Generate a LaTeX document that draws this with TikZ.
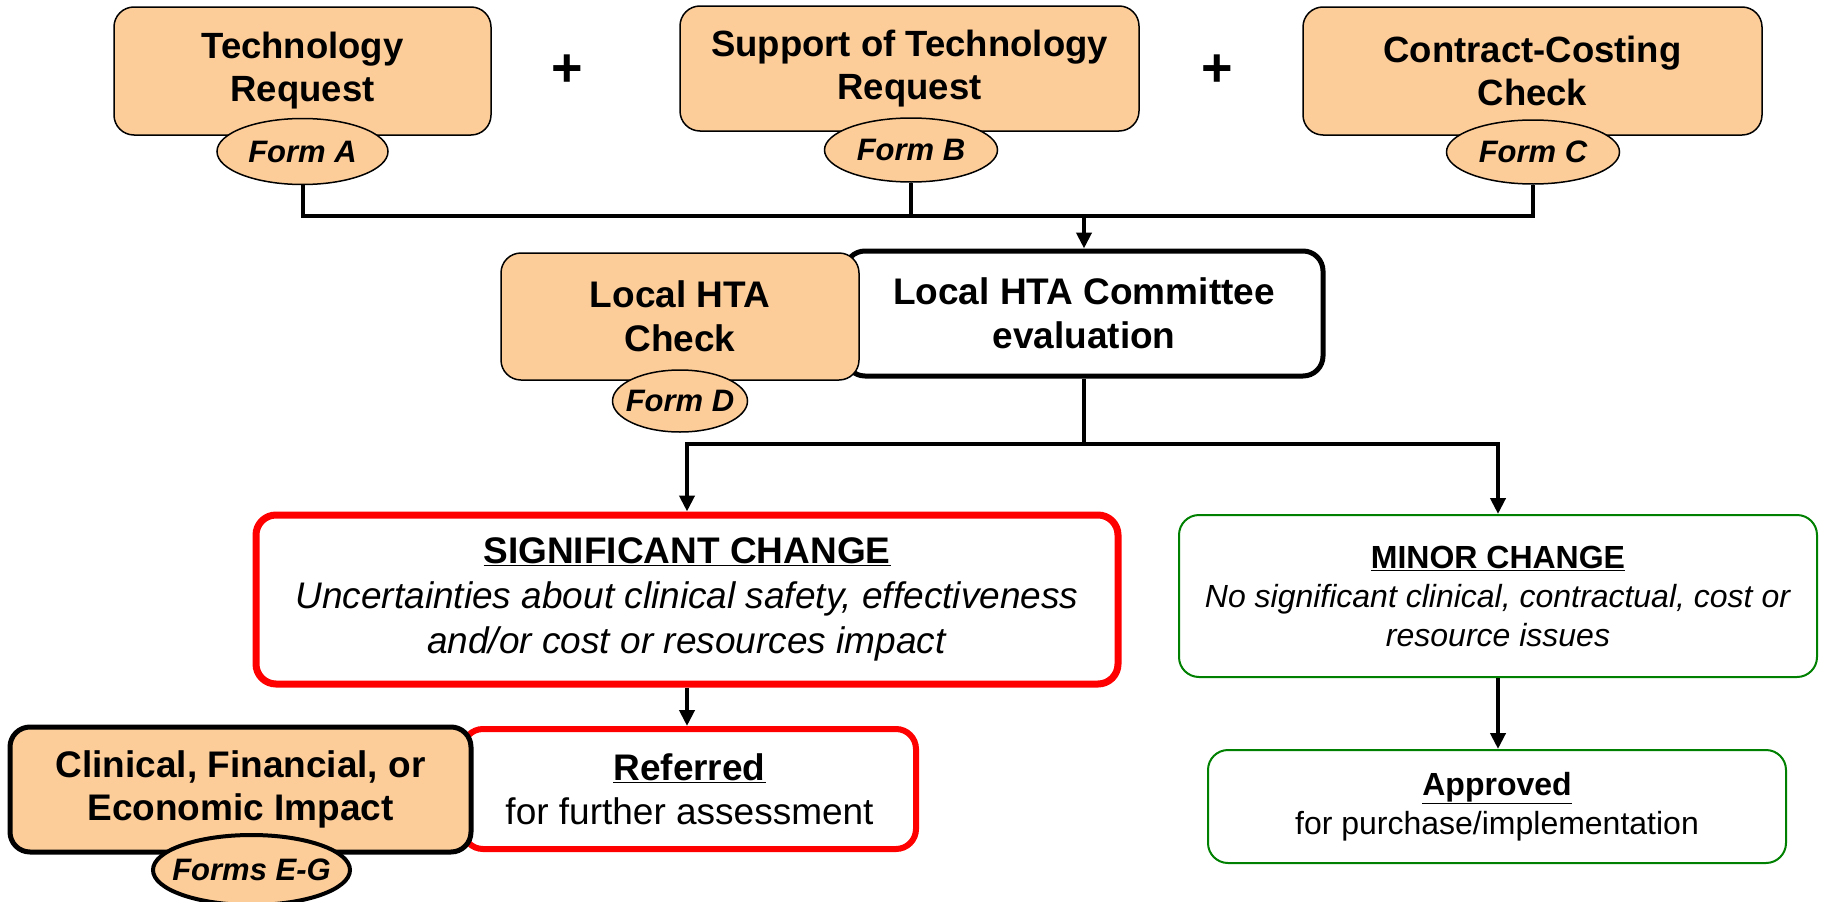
\documentclass[tikz,border=0pt]{standalone}
\usepackage{fontspec}
\setmainfont{Liberation Sans}
\usetikzlibrary{shapes.geometric,arrows.meta}
\definecolor{peach}{RGB}{252,204,153}
\definecolor{sigred}{RGB}{255,0,0}
\definecolor{okgreen}{RGB}{0,128,0}
\begin{document}
\begin{tikzpicture}[x=1pt,y=-1pt,
  sz/.style 2 args={minimum width=#1pt, minimum height=#2pt},
  base/.style={rectangle, rounded corners=20pt, align=center, inner sep=0pt},
  peachbox/.style={base, draw=black, fill=peach, line width=1.5pt, font=\bfseries\fontsize{36.5}{43}\selectfont},
  htabox/.style={peachbox, font=\bfseries\fontsize{37}{44}\selectfont},
  whitebox/.style={base, draw=black, fill=white, line width=5pt, font=\bfseries\fontsize{37}{44}\selectfont},
  impactbox/.style={base, draw=black, fill=peach, line width=5pt, font=\bfseries\fontsize{37}{43}\selectfont},
  sigbox/.style={base, draw=sigred, fill=white, line width=7pt, font=\fontsize{37}{45}\selectfont},
  refbox/.style={base, draw=sigred, fill=white, line width=6pt, font=\fontsize{37}{44}\selectfont},
  greenbox/.style={base, draw=okgreen, fill=white, line width=2pt, font=\fontsize{32}{39}\selectfont},
  formell/.style={ellipse, draw=black, fill=peach, line width=1.5pt, inner xsep=-14pt, inner ysep=0pt, font=\bfseries\itshape\fontsize{31}{36}\selectfont},
  plussign/.style={inner sep=0pt, font=\bfseries\fontsize{54}{60}\selectfont},
  conn/.style={draw=black, line width=4pt},
  arr/.style={conn, -{Triangle[length=16pt,width=15pt]}}
]
\useasboundingbox (0,0) rectangle (1823,902);

% top row
\node[peachbox, sz={377}{128}] (b1) at (302.5,71) {Technology\\Request};
\node[formell, sz={171}{66}] (fa) at (302.5,151.5) {Form A};
\node[plussign] (p1) at (567,71) {+};
\node[peachbox, sz={459}{125}] (b2) at (909.5,68.5) {Support of Technology\\Request};
\node[formell, sz={173}{64}] (fb) at (911,150) {Form B};
\node[plussign] (p2) at (1217,71) {+};
\node[peachbox, sz={459}{128}] (b3) at (1532.5,71) {Contract-Costing\\Check};
\node[formell, sz={173}{64}] (fc) at (1533,152) {Form C};

\coordinate (j1) at (1084,216);
\draw[conn] (fa.south) -- (fa.south |- j1) -- (fc.south |- j1) -- (fc.south);
\draw[conn] (fb.south) -- (fb.south |- j1);

% committee row
\node[whitebox, sz={478}{125}] (comm) at (1084,313.5) {Local HTA Committee\\evaluation};
\draw[arr] (j1) -- (comm.north);
\node[htabox, sz={358}{127}] (hta) at (680,316.5) {Local HTA\\Check};
\node[formell, sz={135}{62}] (fd) at (680,401) {Form D};

% change boxes
\node[sigbox, sz={862}{169}] (sig) at (687,599.5)
  {\textbf{\underline{SIGNIFICANT CHANGE}}\\
   \textit{Uncertainties about clinical safety, effectiveness}\\
   \textit{and/or cost or resources impact}};
\node[greenbox, sz={638}{162}] (minor) at (1498,596)
  {\textbf{\underline{MINOR CHANGE}}\\
   \textit{No significant clinical, contractual, cost or}\\
   \textit{resource issues}};

\coordinate (j2) at (1084,444);
\draw[conn] (comm.south) -- (j2);
\draw[arr] (j2) -| (sig.north);
\draw[arr] (j2) -| (minor.north);

% bottom row
\node[refbox, sz={453}{120}] (ref) at (689.5,789)
  {\textbf{\underline{Referred}}\\for further assessment};
\node[impactbox, sz={461}{125}] (clin) at (240.5,789.5)
  {Clinical, Financial, or\\Economic Impact};
\node[formell, line width=4pt, sz={197}{70}] (feg) at (251.5,870) {Forms E-G};
\draw[arr] (sig.south) -- (sig.south |- ref.north);

\node[greenbox, sz={578}{113}] (appr) at (1497,806.5)
  {\textbf{\underline{Approved}}\\for purchase/implementation};
\draw[arr] (minor.south) -- (minor.south |- appr.north);
\end{tikzpicture}
\end{document}
